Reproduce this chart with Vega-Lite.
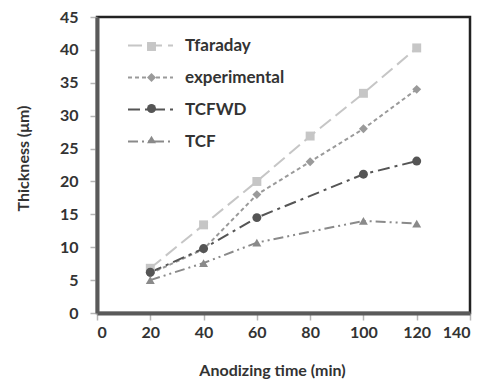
{
  "$schema": "https://vega.github.io/schema/vega-lite/v6.json",
  "width": 373,
  "height": 296,
  "autosize": "none",
  "padding": {"left": 97, "top": 17, "right": 20, "bottom": 70},
  "background": "white",
  "config": {
    "view": {"stroke": "#222222", "strokeWidth": 2.5},
    "axis": {
      "grid": false,
      "domainColor": "#5a5a5a",
      "domainWidth": 4,
      "tickColor": "#b5b5b5",
      "tickWidth": 1.5,
      "tickSize": 7,
      "labelFont": "Lato",
      "labelFontSize": 16,
      "labelFontWeight": "bold",
      "labelColor": "#333333",
      "labelOverlap": false,
      "titleFont": "Lato",
      "titleFontSize": 16,
      "titleFontWeight": "bold",
      "titleColor": "#333333"
    }
  },
  "data": {
    "values": [
      {"time": 20, "thickness": 6.8, "series": "Tfaraday"},
      {"time": 40, "thickness": 13.4, "series": "Tfaraday"},
      {"time": 60, "thickness": 20.0, "series": "Tfaraday"},
      {"time": 80, "thickness": 26.9, "series": "Tfaraday"},
      {"time": 100, "thickness": 33.4, "series": "Tfaraday"},
      {"time": 120, "thickness": 40.3, "series": "Tfaraday"},
      {"time": 20, "thickness": 6.0, "series": "experimental"},
      {"time": 40, "thickness": 9.7, "series": "experimental"},
      {"time": 60, "thickness": 18.0, "series": "experimental"},
      {"time": 80, "thickness": 23.0, "series": "experimental"},
      {"time": 100, "thickness": 28.0, "series": "experimental"},
      {"time": 120, "thickness": 34.0, "series": "experimental"},
      {"time": 20, "thickness": 6.2, "series": "TCFWD"},
      {"time": 40, "thickness": 9.8, "series": "TCFWD"},
      {"time": 60, "thickness": 14.5, "series": "TCFWD"},
      {"time": 100, "thickness": 21.1, "series": "TCFWD"},
      {"time": 120, "thickness": 23.1, "series": "TCFWD"},
      {"time": 20, "thickness": 5.0, "series": "TCF"},
      {"time": 40, "thickness": 7.6, "series": "TCF"},
      {"time": 60, "thickness": 10.7, "series": "TCF"},
      {"time": 100, "thickness": 14.0, "series": "TCF"},
      {"time": 120, "thickness": 13.6, "series": "TCF"}
    ]
  },
  "encoding": {
    "x": {
      "field": "time", "type": "quantitative",
      "scale": {"domain": [0, 140], "nice": false},
      "axis": {"values": [0, 20, 40, 60, 80, 100, 120, 140], "labelPadding": 4, "title": "Anodizing time (min)", "titleX": 175, "titleY": 49, "titleBaseline": "top"}
    },
    "y": {
      "field": "thickness", "type": "quantitative",
      "scale": {"domain": [0, 45], "nice": false},
      "axis": {"values": [0, 5, 10, 15, 20, 25, 30, 35, 40, 45], "labelPadding": 12, "title": "Thickness (μm)", "titleX": -66, "titleY": 141, "titleAngle": -90, "titleAlign": "center", "titleBaseline": "bottom"}
    }
  },
  "layer": [
    {
      "mark": {"type": "line", "strokeWidth": 2},
      "encoding": {
        "color": {
          "field": "series", "type": "nominal",
          "scale": {"domain": ["Tfaraday", "experimental", "TCFWD", "TCF"], "range": ["#c6c6c6", "#9a9a9a", "#555555", "#8a8a8a"]},
          "legend": {"orient": "none", "legendX": 30, "legendY": 5, "title": null, "symbolType": "stroke", "symbolSize": 2025, "symbolStrokeWidth": 2, "labelFont": "Lato", "labelFontSize": 17, "labelFontWeight": "bold", "labelColor": "#333333", "labelOffset": 11, "rowPadding": 0}
        },
        "strokeDash": {
          "field": "series", "type": "nominal",
          "scale": {"domain": ["Tfaraday", "experimental", "TCFWD", "TCF"], "range": [[14, 6], [4, 3], [12, 5, 3, 5], [10, 4, 2, 4, 2, 4]]},
          "legend": {"orient": "none", "legendX": 30, "legendY": 5, "title": null, "symbolType": "stroke", "symbolSize": 2025, "symbolStrokeWidth": 2, "labelFont": "Lato", "labelFontSize": 17, "labelFontWeight": "bold", "labelColor": "#333333", "labelOffset": 11, "rowPadding": 0}
        }
      }
    },
    {
      "mark": {"type": "point", "filled": true, "opacity": 1, "size": 80},
      "encoding": {
        "color": {
          "field": "series", "type": "nominal",
          "scale": {"domain": ["Tfaraday", "experimental", "TCFWD", "TCF"], "range": ["#c6c6c6", "#9a9a9a", "#555555", "#8a8a8a"]},
          "legend": {"orient": "none", "legendX": 47, "legendY": 22, "title": null, "symbolSize": 80, "symbolOpacity": 1, "labelExpr": "''", "labelFontSize": 15, "rowPadding": 15}
        },
        "shape": {
          "field": "series", "type": "nominal",
          "scale": {"domain": ["Tfaraday", "experimental", "TCFWD", "TCF"], "range": ["square", "diamond", "circle", "triangle-up"]},
          "legend": {"orient": "none", "legendX": 47, "legendY": 22, "title": null, "symbolSize": 80, "symbolOpacity": 1, "labelExpr": "''", "labelFontSize": 15, "rowPadding": 15}
        }
      }
    }
  ],
  "resolve": {
    "scale": {"color": "independent", "shape": "independent", "strokeDash": "independent"},
    "legend": {"color": "independent", "shape": "independent", "strokeDash": "independent"}
  }
}
